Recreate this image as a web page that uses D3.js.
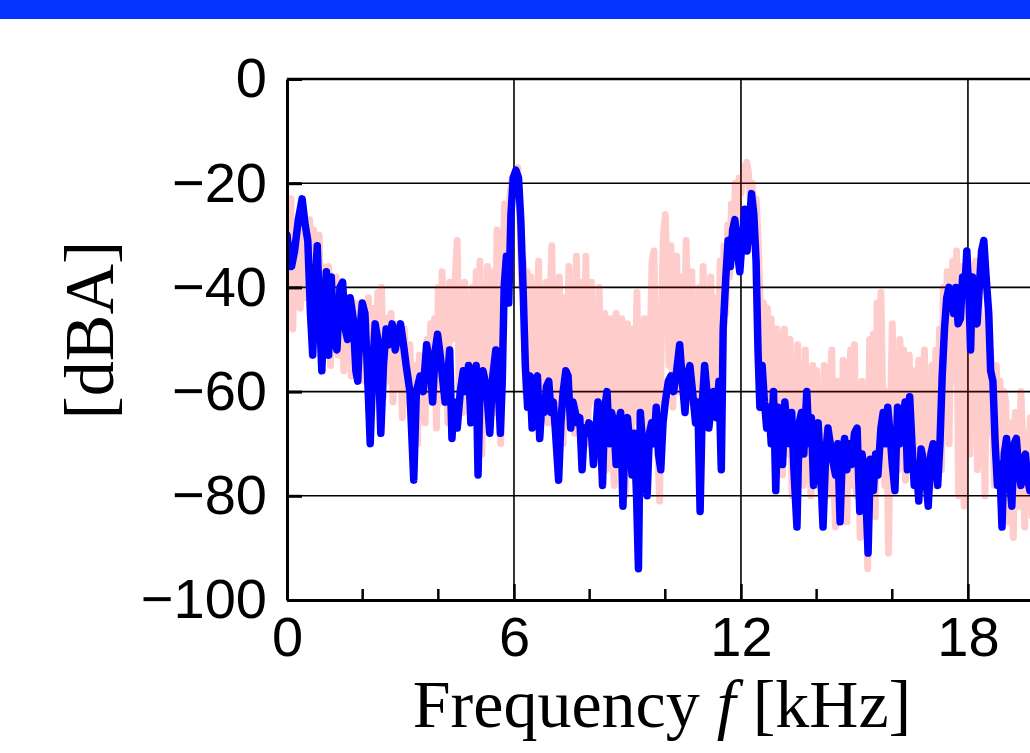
<!DOCTYPE html>
<html><head><meta charset="utf-8">
<script src="https://cdn.jsdelivr.net/npm/d3@7"></script>
<style>html,body{margin:0;padding:0;background:#fff;overflow:hidden}</style>
</head><body>
<script>
// ---- data ----
const xTickVals = [0, 6, 12, 18];
const xTickLabels = ["0", "6", "12", "18"];
const xMinorVals = [2, 4, 8, 10, 14, 16];
const yTickVals = [0, -20, -40, -60, -80, -100];
const yTickLabels = ["0", "\u221220", "\u221240", "\u221260", "\u221280", "\u2212100"];

const blueF = [0.00,0.05,0.12,0.20,0.30,0.40,0.48,0.55,0.62,0.68,0.74,0.80,0.86,0.92,0.98,1.04,1.10,1.17,1.24,1.32,1.40,1.47,1.54,1.60,1.67,1.75,1.82,1.87,1.93,1.99,
2.06,2.12,2.20,2.27,2.33,2.40,2.48,2.55,2.62,2.70,2.78,2.86,2.93,3.00,3.08,3.15,3.25,3.35,3.42,3.52,3.60,3.69,3.78,3.85,3.92,3.98,
4.05,4.12,4.18,4.25,4.30,4.36,4.42,4.50,4.58,4.66,4.72,4.80,4.86,4.92,5.00,5.05,5.10,5.18,5.24,5.30,5.36,5.44,5.52,5.58,5.64,5.69,5.74,5.80,5.86,5.92,5.98,
6.05,6.12,6.18,6.24,6.30,6.36,6.42,6.48,6.55,6.62,6.68,6.74,6.80,6.86,6.92,6.98,7.04,7.10,7.18,7.24,7.30,7.37,7.43,7.50,7.56,7.62,7.68,7.74,7.80,7.86,7.92,7.98,
8.04,8.10,8.16,8.22,8.28,8.34,8.40,8.46,8.52,8.58,8.64,8.70,8.76,8.82,8.88,8.94,9.00,9.06,9.12,9.18,9.24,9.29,9.34,9.40,9.46,9.52,9.58,9.64,9.70,9.76,9.82,9.88,9.94,
10.00,10.08,10.15,10.22,10.30,10.38,10.45,10.52,10.58,10.65,10.72,10.80,10.86,10.92,10.98,11.04,11.10,11.15,11.22,11.28,11.35,11.42,11.48,11.53,11.60,11.66,11.72,11.78,11.84,11.90,11.97,
12.04,12.10,12.16,12.22,12.28,12.34,12.40,12.45,12.50,12.56,12.62,12.68,12.74,12.80,12.86,12.92,12.98,13.04,13.10,13.16,13.22,13.28,13.34,13.40,13.48,13.54,13.60,13.66,13.74,13.80,13.86,13.92,13.98,
14.04,14.10,14.17,14.24,14.30,14.36,14.42,14.50,14.56,14.62,14.68,14.74,14.80,14.86,14.92,15.00,15.07,15.14,15.20,15.28,15.36,15.42,15.50,15.56,15.62,15.70,15.76,15.82,15.88,15.94,
16.00,16.07,16.14,16.20,16.27,16.34,16.40,16.46,16.52,16.58,16.64,16.70,16.76,16.82,16.88,16.95,17.02,17.08,17.14,17.20,17.26,17.32,17.38,17.44,17.50,17.56,17.62,17.68,17.74,17.80,17.86,17.92,17.97,
18.02,18.07,18.12,18.18,18.24,18.30,18.36,18.42,18.48,18.55,18.60,18.66,18.72,18.78,18.84,18.90,18.96,19.02,19.08,19.16,19.22,19.28,19.34,19.40,19.46,19.52,19.58,19.64,19.70,19.76,19.82,19.88,19.94,20.00];

const blueDb = [-30,-33,-36,-33,-27,-23,-28,-31,-45,-53,-40,-32,-45,-56,-45,-37,-53,-38,-50,-52,-40,-39,-48,-50,-42,-46,-56,-58,-48,-43,
-45,-55,-70,-55,-47,-50,-68,-55,-48,-51,-47,-52,-49,-47,-51,-55,-60,-77,-60,-57,-60,-51,-55,-62,-52,-49,
-53,-58,-62,-57,-52,-69,-62,-67,-60,-56,-60,-55,-66,-58,-55,-76,-60,-56,-58,-62,-68,-57,-52,-58,-68,-58,-40,-34,-43,-26,-19,
-17.5,-19,-27,-40,-55,-63,-57,-67,-58,-57,-69,-62,-64,-59,-58,-64,-62,-68,-77,-66,-60,-56,-57,-67,-62,-64,-66,-65,-75,-67,-68,-66,
-67,-74,-68,-62,-66,-78,-63,-60,-70,-64,-66,-74,-66,-64,-82,-67,-65,-70,-76,-68,-80,-94,-64,-70,-74,-80,-68,-66,-70,-63,-72,-75,-66,
-62,-58,-57,-60,-56,-51,-58,-64,-57,-55,-60,-66,-62,-83,-62,-55,-60,-67,-62,-60,-65,-58,-75,-48,-38,-31,-36,-29,-27,-33,-37,
-30,-25,-33,-28,-22,-26,-35,-52,-63,-55,-62,-67,-63,-70,-60,-79,-63,-66,-74,-62,-67,-70,-64,-75,-86,-66,-64,-72,-60,-70,-65,-78,-70,
-66,-74,-86,-72,-67,-70,-73,-76,-70,-85,-72,-69,-75,-70,-74,-68,-67,-83,-72,-76,-91,-73,-79,-72,-76,-67,-64,-70,-63,-68,
-74,-79,-63,-70,-66,-62,-75,-61,-70,-78,-74,-81,-71,-73,-76,-82,-72,-70,-74,-78,-70,-57,-48,-42,-40,-41,-45,-40,-47,-46,-38,-40,-33,
-40,-52,-38,-45,-47,-40,-33,-31,-38,-45,-56,-58,-70,-78,-74,-86,-72,-69,-75,-82,-70,-69,-75,-78,-73,-72,-77,-79,-76,-80,-72,-78,-74,-77];

const pinkStep = 0.05;
const pinkDb = [
-25,-45,-23,-48,-33,-40,-29,-44,-35,-30,-42,-31,-27,-46,-29,-50,-33,-30,-47,-36,
-38,-52,-36,-55,-40,-47,-38,-53,-44,-41,-56,-43,-49,-42,-57,-45,-43,-52,-44,-55,
-43,-58,-46,-42,-60,-47,-44,-55,-41,-52,-40,-61,-48,-46,-58,-45,-62,-50,-47,-59,
-52,-65,-48,-57,-62,-51,-68,-55,-59,-70,-53,-64,-57,-66,-50,-62,-47,-58,-46,-67,
-40,-62,-37,-55,-41,-66,-39,-50,-45,-38,-31,-60,-44,-64,-39,-58,-42,-61,-40,-65,
-37,-63,-35,-72,-40,-58,-36,-68,-48,-37,-64,-29,-55,-70,-45,-24,-38,-26,-22,-19,
-19,-18,-17,-25,-40,-35,-60,-37,-55,-38,-64,-40,-57,-35,-62,-42,-58,-39,-66,-45,
-32,-58,-44,-67,-38,-60,-70,-42,-55,-36,-63,-40,-68,-34,-57,-66,-39,-60,-34,-70,
-45,-39,-62,-48,-73,-40,-58,-66,-45,-75,-52,-46,-68,-78,-45,-60,-72,-46,-65,-80,
-47,-62,-70,-48,-60,-41,-66,-50,-72,-46,-60,-74,-52,-35,-33,-58,-70,-81,-45,-30,
-26,-40,-55,-32,-63,-45,-34,-60,-50,-38,-58,-31,-48,-62,-37,-55,-44,-65,-40,-58,
-36,-58,-44,-62,-38,-50,-60,-42,-55,-35,-48,-32,-45,-28,-38,-24,-33,-20,-27,-19,
-22,-19,-17,-16,-18,-24,-20,-27,-23,-30,-41,-55,-43,-62,-44,-66,-46,-58,-70,-48,
-50,-68,-76,-48,-62,-72,-50,-80,-58,-66,-51,-74,-60,-78,-52,-70,-64,-80,-55,-72,
-56,-78,-66,-84,-55,-72,-80,-60,-52,-76,-86,-58,-70,-82,-54,-74,-85,-60,-52,-78,
-51,-80,-70,-88,-58,-72,-66,-94,-50,-78,-49,-84,-43,-70,-41,-62,-78,-60,-91,-66,
-47,-70,-55,-75,-50,-64,-52,-77,-60,-53,-72,-56,-78,-62,-54,-74,-66,-52,-77,-68,
-70,-55,-78,-52,-66,-48,-75,-40,-60,-37,-70,-45,-35,-58,-33,-80,-50,-36,-82,-45,
-40,-72,-38,-66,-35,-75,-42,-70,-48,-80,-45,-68,-52,-62,-78,-55,-72,-58,-80,-60,
-62,-85,-66,-78,-88,-64,-74,-82,-60,-70,-86,-68,-76,-65,-84,-72,-80,-66,-88,-75,
-78];

// ---- layout ----
const W = 1030, H = 753;
const plotLeft = 287, plotTop = 79, plotBottom = 600, kHzPx = 37.83;
const svg = d3.select("body").append("svg").attr("width", W).attr("height", H);

svg.append("rect").attr("x", 0).attr("y", 0).attr("width", W).attr("height", 19).attr("fill", "#0533ff");

const x = d3.scaleLinear().domain([0, 20]).range([plotLeft, plotLeft + 20 * kHzPx]);
const y = d3.scaleLinear().domain([-100, 0]).range([plotBottom, plotTop]);

svg.append("defs").append("clipPath").attr("id", "plotclip")
  .append("rect").attr("x", x(0)).attr("y", y(0)).attr("width", x(20) - x(0)).attr("height", y(-100) - y(0));

// grid
const grid = svg.append("g").attr("stroke", "#000").attr("stroke-width", 1.6);
grid.selectAll("line.h").data([-20, -40, -60, -80]).enter().append("line")
  .attr("x1", x(0)).attr("x2", x(20)).attr("y1", d => y(d)).attr("y2", d => y(d));
grid.selectAll("line.v").data([6, 12, 18]).enter().append("line")
  .attr("x1", d => x(d)).attr("x2", d => x(d)).attr("y1", y(0)).attr("y2", y(-100));

// series
const plot = svg.append("g").attr("clip-path", "url(#plotclip)");
const pinkData = pinkDb.map((v, i) => [i * pinkStep, v]);
const blueData = blueF.map((f, i) => [f, blueDb[i]]);
const line = d3.line().x(d => x(d[0])).y(d => y(d[1]));
plot.append("path").datum(pinkData).attr("d", line).attr("fill", "none")
  .attr("stroke", "rgba(255,0,0,0.2)").attr("stroke-width", 7)
  .attr("stroke-linejoin", "round").attr("stroke-linecap", "round");
plot.append("path").datum(blueData).attr("d", line).attr("fill", "none")
  .attr("stroke", "#0000ff").attr("stroke-width", 7.5)
  .attr("stroke-linejoin", "round").attr("stroke-linecap", "round");

// axes
const yAxis = d3.axisLeft(y).tickValues(yTickVals).tickFormat((d, i) => yTickLabels[i])
  .tickSizeInner(-15).tickSizeOuter(0).tickPadding(20);
const gy = svg.append("g").attr("transform", `translate(${plotLeft},0)`).call(yAxis);
gy.select(".domain").attr("stroke-width", 3);
gy.selectAll(".tick line").attr("stroke-width", 3);
gy.selectAll("text").attr("font-family", "'Liberation Sans', Arial, sans-serif").attr("font-size", 56).attr("fill", "#000");

const xAxis = d3.axisBottom(x).tickValues(xTickVals).tickFormat((d, i) => xTickLabels[i])
  .tickSizeInner(-16).tickSizeOuter(0).tickPadding(16);
const gx = svg.append("g").attr("transform", `translate(0,${plotBottom})`).call(xAxis);
gx.select(".domain").attr("stroke-width", 3);
gx.selectAll(".tick line").attr("stroke-width", 2.5);
gx.selectAll("text").attr("font-family", "'Liberation Sans', Arial, sans-serif").attr("font-size", 56).attr("fill", "#000");

svg.append("g").selectAll("line").data(xMinorVals).enter().append("line")
  .attr("x1", d => x(d)).attr("x2", d => x(d)).attr("y1", plotBottom).attr("y2", plotBottom - 11)
  .attr("stroke", "#000").attr("stroke-width", 2.5);

// top border
svg.append("line").attr("x1", x(0)).attr("x2", x(20)).attr("y1", plotTop).attr("y2", plotTop)
  .attr("stroke", "#000").attr("stroke-width", 2.5);

// labels
const xl = svg.append("text").attr("x", 662).attr("y", 727).attr("text-anchor", "middle")
  .attr("font-family", "'Liberation Serif', 'Times New Roman', serif").attr("font-size", 68).attr("fill", "#000");
xl.append("tspan").text("Frequency ");
xl.append("tspan").attr("font-style", "italic").text("f");
xl.append("tspan").text(" [kHz]");

svg.append("text").attr("transform", "translate(113,330) rotate(-90)").attr("text-anchor", "middle")
  .attr("font-family", "'Liberation Serif', 'Times New Roman', serif").attr("font-size", 70).attr("fill", "#000")
  .text("[dBA]");
</script>
</body></html>
